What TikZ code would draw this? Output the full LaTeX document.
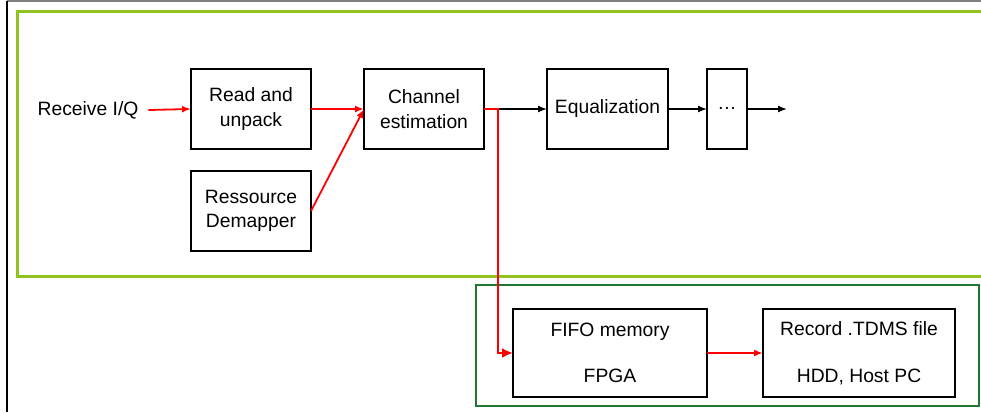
\documentclass[tikz,border=0pt]{standalone}
\usepackage{fontspec}
\setmainfont{Liberation Sans}
\usetikzlibrary{arrows.meta}
\definecolor{lgreen}{RGB}{146,194,30}
\definecolor{dgreen}{RGB}{30,120,50}
\definecolor{ared}{RGB}{255,0,0}
\begin{document}
\begin{tikzpicture}[x=1pt,y=-1pt,
  blk/.style={draw=black,line width=2.2pt,rectangle,inner sep=0pt,outer sep=0pt,align=center,
    font=\fontsize{19.3}{24.5}\selectfont},
  lbl/.style={inner sep=0pt,outer sep=0pt,font=\fontsize{19.3}{24.5}\selectfont},
  redarr/.style={draw=ared,line width=1.8pt,-{Latex[length=9pt,width=7pt]}},
  redthick/.style={draw=ared,line width=2.8pt},
  blkarr/.style={draw=black,line width=1.4pt,-{Latex[length=9pt,width=7pt]}}]
\useasboundingbox (0,0) rectangle (981,412);
% frame lines
\draw[gray,line width=1.2pt] (7,1) -- (981,1);
\draw[black,line width=1.2pt] (7,1) -- (7,412);
% group boxes
\draw[lgreen,line width=3pt] (990,12) -- (17,12) -- (17,276) -- (990,276);
\draw[dgreen,line width=2pt] (476,285) rectangle (979,406);
% nodes
\node[lbl] (recv) at (88,110) {Receive I/Q};
\node[blk,minimum width=120pt,minimum height=80pt] (rau) at (251,109) {Read and\\unpack};
\node[blk,minimum width=120pt,minimum height=80pt] (res) at (251,211) {Ressource\\Demapper};
\node[blk,minimum width=120pt,minimum height=80pt] (che) at (424,109) {Channel\\estimation};
\node[blk,minimum width=121pt,minimum height=80pt] (equ) at (607.5,109) {Equalization};
\node[blk,minimum width=40pt,minimum height=80pt] (dots) at (727,109) {\raisebox{2pt}{\dots}};
\node[blk,minimum width=194pt,minimum height=88pt] (fifo) at (610,353) {FIFO memory\\[22pt]FPGA};
\node[blk,minimum width=192pt,minimum height=88pt] (rec) at (859,353) {Record .TDMS file\\[22pt]HDD, Host PC};
\coordinate (split) at (498,109);
\coordinate (out) at (787,109);
% connectors
\draw[redarr] ([xshift=10pt]recv.east) -- (rau.west);
\draw[redarr] (rau.east) -- (che.west);
\draw[redarr] (res.east) -- (che.west);
\draw[blkarr] (split) -- (equ.west);
\draw[blkarr] (equ.east) -- (dots.west);
\draw[blkarr] (dots.east) -- (out);
\draw[redthick,-{Latex[length=11pt,width=10pt]}] (che.east) -- (split) |- (fifo.west);
\draw[redarr] (fifo.east) -- (rec.west);
\end{tikzpicture}
\end{document}
